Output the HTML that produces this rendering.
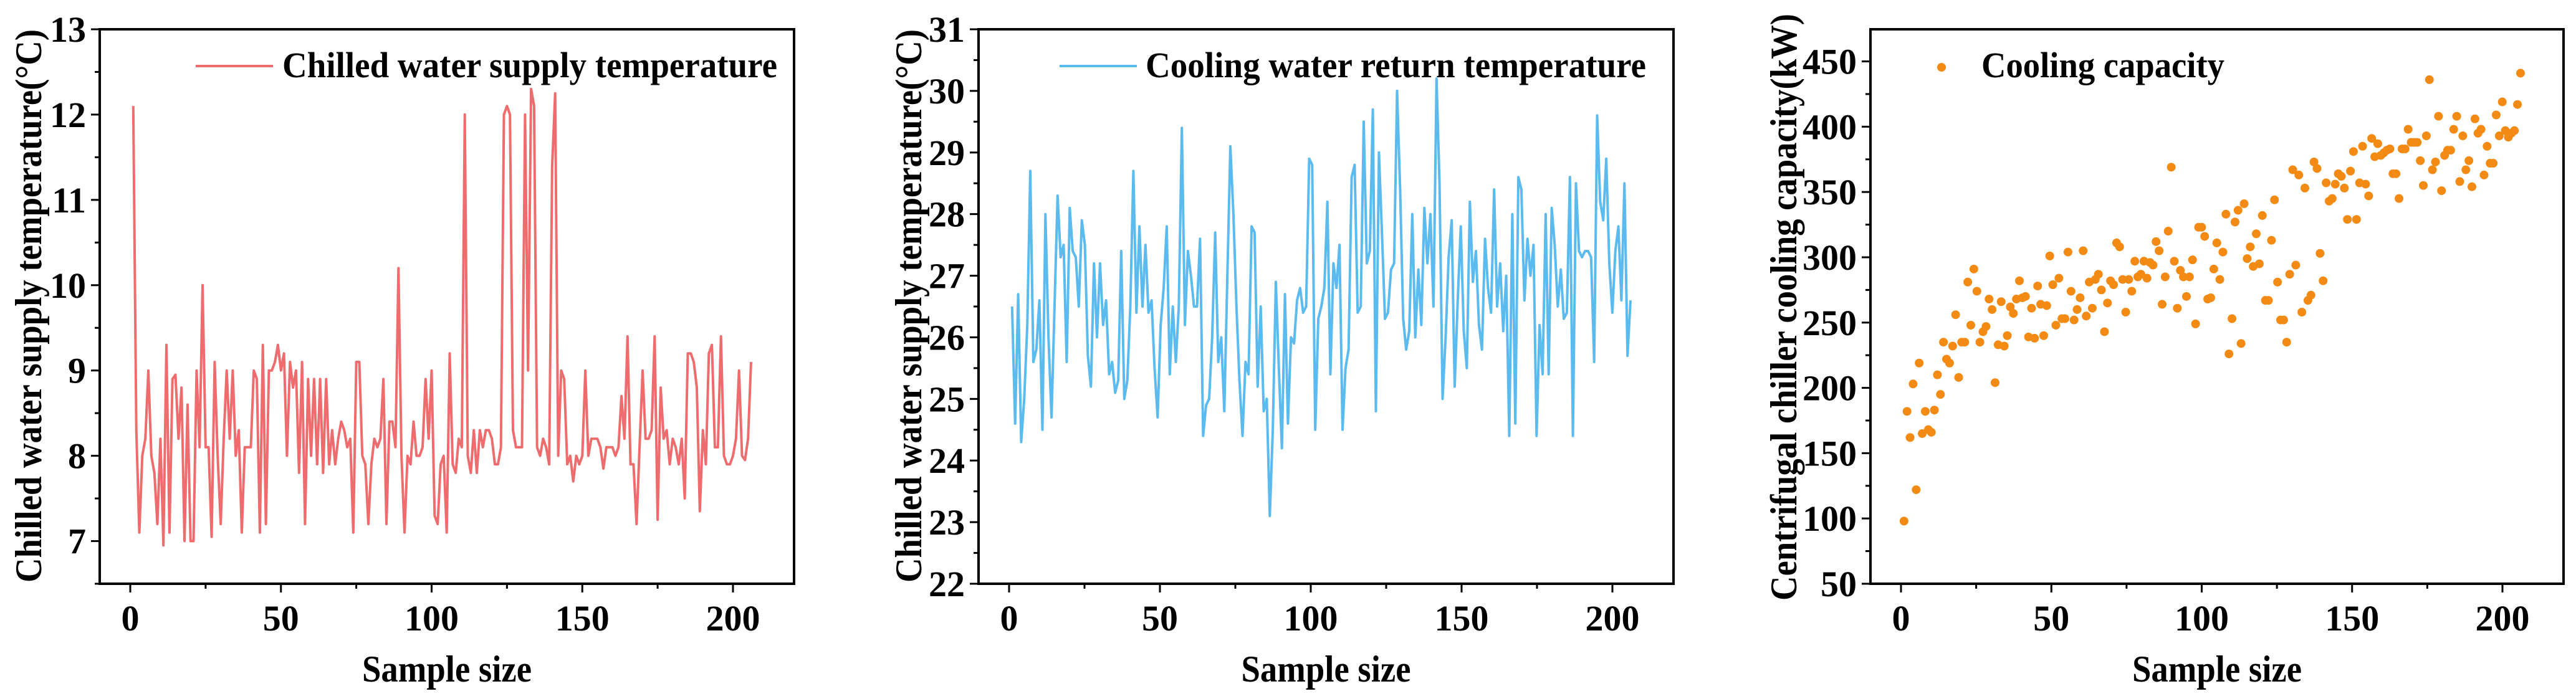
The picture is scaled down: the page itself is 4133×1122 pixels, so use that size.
<!DOCTYPE html>
<html><head><meta charset="utf-8"><style>
html,body{margin:0;padding:0;background:#fff;}
svg{display:block;}
text{font-family:"Liberation Serif",serif;font-weight:bold;fill:#000;}
</style></head><body>
<svg id="chart" width="4133" height="1122" viewBox="0 0 4133 1122" xmlns="http://www.w3.org/2000/svg"></svg>
<script>
const supplyTemp = [12.1,8.3,7.1,8.0,8.2,9.0,8.0,7.8,7.2,8.2,6.95,9.3,7.1,8.9,8.95,8.2,8.8,7.0,8.6,7.0,7.0,9.0,8.1,10.0,8.1,8.1,7.05,9.1,8.0,7.2,8.2,9.0,8.2,9.0,8.0,8.3,7.1,8.1,8.1,8.1,9.0,8.9,7.1,9.3,7.2,9.0,9.0,9.1,9.3,9.0,9.2,8.0,9.1,8.8,9.0,7.8,9.1,7.2,8.9,8.0,8.9,7.9,8.9,7.8,8.9,7.9,8.3,7.9,8.2,8.4,8.3,8.1,8.2,7.1,9.1,9.1,8.0,7.9,7.2,7.9,8.2,8.1,8.2,8.9,7.2,8.4,8.4,8.1,10.2,8.0,7.1,8.0,7.9,8.4,8.0,8.0,8.1,8.9,8.2,9.0,7.3,7.2,7.9,8.0,7.1,9.2,7.9,7.8,8.2,8.1,12.0,8.0,7.8,8.3,7.8,8.3,8.1,8.3,8.3,8.2,7.9,7.9,8.1,12.0,12.1,12.0,8.3,8.1,8.1,8.1,12.0,9.0,12.3,12.1,8.1,8.0,8.2,8.1,7.9,11.4,12.25,8.0,9.0,8.9,7.9,8.0,7.7,8.0,7.9,8.0,9.0,8.0,8.2,8.2,8.2,8.1,7.85,8.1,8.1,8.1,8.0,8.1,8.7,8.2,9.4,7.9,7.9,7.2,8.1,9.0,8.2,8.2,8.3,9.4,7.25,8.8,8.2,8.3,7.9,8.2,8.1,7.9,8.2,7.5,9.2,9.2,9.1,8.8,7.35,8.3,7.9,9.2,9.3,8.1,8.1,9.4,8.0,7.9,7.9,8.0,8.2,9.0,8.0,7.95,8.2,9.1];
const returnTemp = [26.5,24.6,26.7,24.3,25.0,26.2,28.7,25.6,25.8,26.6,24.5,28.0,26.0,24.7,26.5,28.3,27.3,27.5,25.6,28.1,27.4,27.3,26.5,27.9,27.5,25.7,25.2,27.2,26.0,27.2,26.2,26.6,25.4,25.6,25.1,25.3,27.4,25.0,25.3,26.5,28.7,26.4,27.8,26.5,27.5,26.4,26.6,25.5,24.7,26.2,26.8,27.8,25.4,26.5,25.6,26.5,29.4,26.2,27.4,27.0,26.5,26.5,27.6,24.4,24.9,25.0,26.0,27.7,25.6,26.0,24.8,27.0,29.1,28.0,26.5,25.3,24.4,25.6,25.4,27.8,27.7,25.2,26.5,24.8,25.0,23.1,24.5,26.9,25.5,24.2,26.7,24.6,26.0,25.9,26.6,26.8,26.4,26.5,28.9,28.8,24.5,26.3,26.5,26.8,28.2,25.4,27.2,26.8,27.5,24.5,25.5,25.8,28.6,28.8,26.4,26.5,29.5,27.2,27.4,29.7,24.8,29.0,27.7,26.3,26.4,27.1,27.2,30.0,28.4,26.3,25.8,26.1,28.0,26.0,27.1,26.2,28.1,27.2,28.0,26.5,30.2,28.5,25.0,26.0,27.3,27.9,25.2,26.6,27.8,26.1,25.5,28.2,26.9,27.4,26.2,25.8,27.6,26.8,26.4,28.4,26.5,27.2,26.1,27.0,24.4,28.0,24.6,28.6,28.4,26.6,27.6,27.0,27.5,24.4,26.2,25.4,28.0,25.4,28.1,27.5,26.5,27.1,26.3,26.4,28.6,24.4,28.5,27.4,27.3,27.4,27.4,27.3,25.6,29.6,28.2,27.9,28.9,27.2,26.4,27.4,27.8,26.6,28.5,25.7,26.6];
const capacity = [98,182,162,203,122,219,165,182,168,166,183,210,195,235,222,219,232,256,208,235,235,281,248,291,274,235,243,247,268,260,204,233,266,232,240,262,257,268,282,269,270,239,261,238,278,264,240,263,301,279,248,284,253,253,304,274,252,260,269,305,255,281,261,283,287,275,243,265,282,279,311,308,283,258,283,274,297,285,287,297,284,296,294,312,305,264,285,320,369,297,261,290,285,270,285,298,249,323,323,316,268,269,291,311,283,304,333,226,253,327,336,234,341,299,308,293,318,295,332,267,267,313,344,281,252,252,235,287,367,294,363,258,353,267,271,373,368,303,282,357,343,345,356,364,362,353,329,366,381,329,357,385,356,347,391,377,387,378,380,382,383,364,364,345,383,383,398,388,388,388,374,355,393,436,367,373,408,351,378,382,382,398,408,358,393,367,374,354,406,395,398,363,385,372,372,409,393,419,397,392,395,397,417,441];
const xTicks = [0,50,100,150,200];
const yTicks1 = [7,8,9,10,11,12,13];
const yTicks2 = [22,23,24,25,26,27,28,29,30,31];
const yTicks3 = [50,100,150,200,250,300,350,400,450];

const svg = document.getElementById('chart');
const NS = 'http://www.w3.org/2000/svg';
function mk(tag, attrs, parent){const e=document.createElementNS(NS,tag);for(const k in attrs)e.setAttribute(k,attrs[k]);(parent||svg).appendChild(e);return e;}

function panel(p){
  const g = mk('g',{});
  
  
  const T=47,B=937;
  const n=p.data.length;
  const sx=v=>p.x0+(v-0)*(p.x200-p.x0)/200;
  const sy=v=>B-(v-p.ymin)*(B-T)/(p.ymax-p.ymin);
  if(p.type==='line'){
    let d='';
    p.data.forEach((v,i)=>{d+=(i?'L':'M')+sx(1+i*205/(n-1)).toFixed(1)+' '+sy(v).toFixed(1);});
    const path=mk('path',{d:d,fill:'none',stroke:p.color,'stroke-width':4,'stroke-linejoin':'round'},g);
    
    
  } else {
    p.data.forEach((v,i)=>{
      const c=mk('circle',{cx:sx(1+i*205/(n-1)),cy:sy(v),r:7,fill:p.color},g);
      
      
    });
  }
  const fr=mk('rect',{x:p.L,y:T,width:p.R-p.L,height:B-T,fill:'none',stroke:'#000','stroke-width':4},g);
  
  
  xTicks.forEach(t=>{
    mk('line',{x1:sx(t),x2:sx(t),y1:B,y2:B+14,stroke:'#000','stroke-width':3},g);
    const m=t+25; if(m<=220) mk('line',{x1:sx(m),x2:sx(m),y1:B,y2:B+8,stroke:'#000','stroke-width':3},g);
    const tx=mk('text',{x:sx(t),y:1012,'font-size':58,'text-anchor':'middle'},g);
    tx.textContent=t;
    
    
  });
  const step=p.yt[1]-p.yt[0];
  p.yt.forEach(t=>{
    mk('line',{x1:p.L,x2:p.L-14,y1:sy(t),y2:sy(t),stroke:'#000','stroke-width':3},g);
    const m=t+step/2; if(m<=p.ymax) mk('line',{x1:p.L,x2:p.L-8,y1:sy(m),y2:sy(m),stroke:'#000','stroke-width':3},g);
    const m2=t-step/2; if(m2>=p.ymin && t===p.yt[0]) mk('line',{x1:p.L,x2:p.L-8,y1:sy(m2),y2:sy(m2),stroke:'#000','stroke-width':3},g);
    const ty=mk('text',{x:p.L-22,y:sy(t)+20,'font-size':58,'text-anchor':'end'},g);
    ty.textContent=t;
    
    
  });
  const xt=mk('text',{x:(p.L+p.R)/2,y:1094,'font-size':60,'text-anchor':'middle',textLength:272,lengthAdjust:'spacingAndGlyphs'},g);
  xt.textContent='Sample size';
  
  
  const yt=mk('text',{x:0,y:0,'font-size':60,'text-anchor':'middle',textLength:p.ytlen,lengthAdjust:'spacingAndGlyphs',transform:`translate(${p.ytx},${p.ytc}) rotate(-90)`},g);
  yt.textContent=p.ytitle;
  
  
  if(p.type==='line'){
    const ll=mk('line',{x1:p.lx,x2:p.lx+124,y1:106,y2:106,stroke:p.color,'stroke-width':4},g);
    
    
  } else {
    const lc=mk('circle',{cx:p.lx,cy:108,r:7,fill:p.color},g);
    
    
  }
  const lt=mk('text',{x:p.ltx,y:124,'font-size':58,textLength:p.ltlen,lengthAdjust:'spacingAndGlyphs'},g);
  lt.textContent=p.legend;
  
  
}
panel({name:'supply-temp-panel',type:'line',data:supplyTemp,color:'#EE6B6E',L:160,R:1274,x0:209,x200:1176,ymin:6.5,ymax:13,yt:yTicks1,ytitle:'Chilled water supply temperature(°C)',ytx:66,ytc:491,ytlen:888,lx:314,ltx:453,ltlen:794,legend:'Chilled water supply temperature'});
panel({name:'return-temp-panel',type:'line',data:returnTemp,color:'#5BBAEE',L:1570,R:2685,x0:1619,x200:2587,ymin:22,ymax:31,yt:yTicks2,ytitle:'Chilled water supply temperature(°C)',ytx:1478,ytc:491,ytlen:888,lx:1700,ltx:1838,ltlen:803,legend:'Cooling water return temperature'});
panel({name:'capacity-panel',type:'scatter',data:capacity,color:'#F28A14',L:3001,R:4113,x0:3050,x200:4015,ymin:50,ymax:474.6,yt:yTicks3,ytitle:'Centrifugal chiller cooling capacity(kW)',ytx:2882,ytc:493,ytlen:942,lx:3115,ltx:3179,ltlen:390,legend:'Cooling capacity'});
</script>
</body></html>
